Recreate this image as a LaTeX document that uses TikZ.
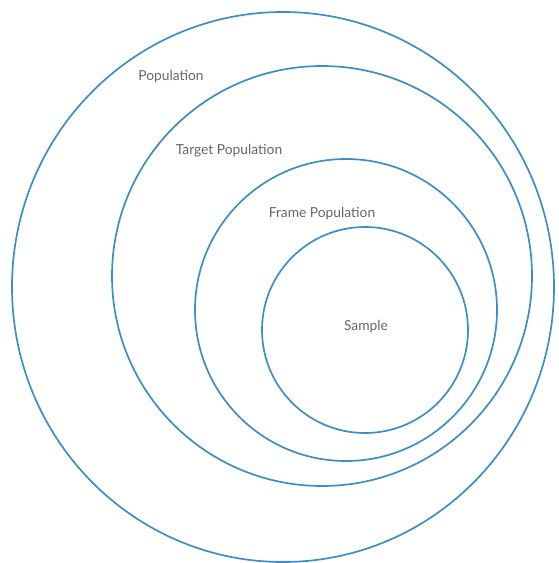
\documentclass[tikz,border=0pt]{standalone}
\usepackage{fontspec}
\setmainfont{Lato}
\definecolor{ringblue}{HTML}{3D8EC6}
\definecolor{labelgray}{HTML}{666666}
\begin{document}
\begin{tikzpicture}[x=1pt,y=-1pt,
  ring/.style={draw=ringblue,line width=1.7pt},
  lbl/.style={text=labelgray,font=\fontsize{13.8}{16}\selectfont,inner sep=0pt}]
\useasboundingbox (0,0) rectangle (558,563);
\begin{scope}
\clip (0,0) rectangle (558,563);
\draw[ring] (283,287) ellipse [x radius=271, y radius=275];
\end{scope}
\draw[ring] (322,276) circle [radius=210];
\draw[ring] (346,310) circle [radius=151];
\draw[ring] (365,330) circle [radius=103];
\node[lbl] (pop) at (171,76.5) {Population};
\node[lbl] (tpop) at (229,150.5) {Target Population};
\node[lbl] (fpop) at (322,213.5) {Frame Population};
\node[lbl] (samp) at (366,326.5) {Sample};
\end{tikzpicture}
\end{document}
